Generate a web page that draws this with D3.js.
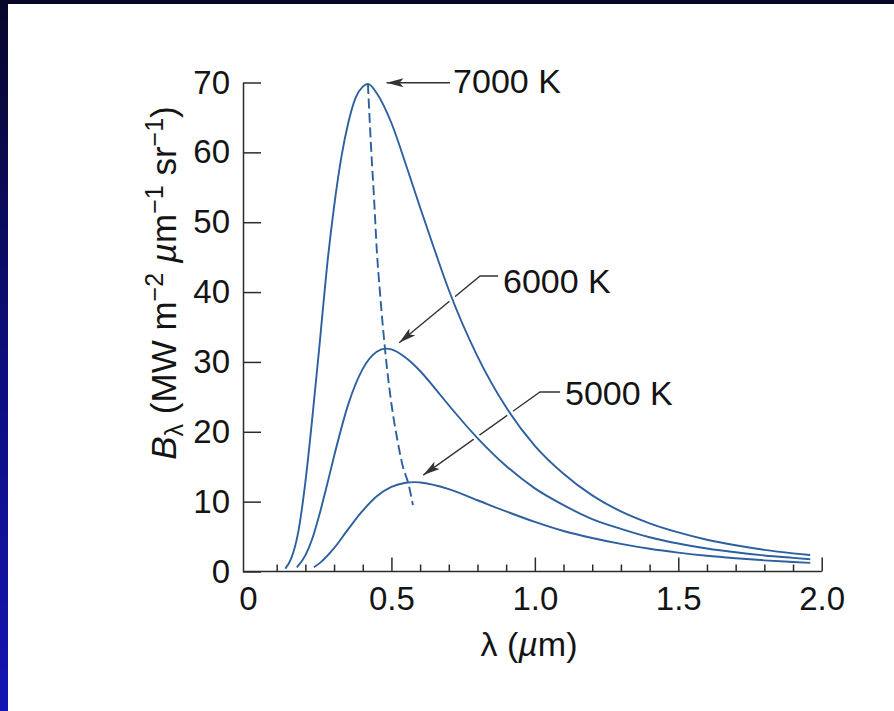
<!DOCTYPE html>
<html>
<head>
<meta charset="utf-8">
<style>
  body { margin: 0; background: #fff; }
  svg { display: block; font-family: 'Liberation Sans', Arial, Helvetica, sans-serif; }
  .axis path, .axis line { stroke: #2b2b2b; stroke-width: 1.5; }
  .axis text { font-size: 33px; fill: #141414; font-family: 'Liberation Sans', Arial, sans-serif; }
  .label { font-size: 34px; fill: #141414; }
</style>
</head>
<body>
<svg id="chart" width="894" height="711"></svg>
<script src="https://cdn.jsdelivr.net/npm/d3@7.9.0/dist/d3.min.js"></script>
<script>
// wavelength (µm) and spectral radiance B (MW m-2 µm-1 sr-1)
const lambda7000 = [0.13, 0.15, 0.175, 0.2, 0.225, 0.25, 0.275, 0.3, 0.325, 0.35, 0.375, 0.4, 0.418, 0.45, 0.5, 0.55, 0.6, 0.65, 0.7, 0.8, 0.9, 1.0, 1.1, 1.2, 1.3, 1.4, 1.5, 1.6, 1.7, 1.8, 1.9, 1.96];
const radiance7000 = [0.4, 1.8, 5.6, 12.8, 22.3, 32.7, 43.5, 52.2, 59.2, 64.3, 67.8, 69.4, 69.8, 68.4, 64.2, 58.3, 52.1, 46.1, 40.3, 30.8, 23.5, 18.0, 14.0, 10.9, 8.6, 6.9, 5.6, 4.55, 3.75, 3.1, 2.6, 2.35];

const lambda6000 = [0.17, 0.2, 0.225, 0.25, 0.275, 0.3, 0.35, 0.4, 0.45, 0.48, 0.5, 0.55, 0.6, 0.65, 0.7, 0.8, 0.9, 1.0, 1.1, 1.2, 1.3, 1.4, 1.5, 1.6, 1.7, 1.8, 1.9, 1.96];
const radiance6000 = [0.6, 2.3, 4.8, 8.3, 12.3, 16.5, 24.0, 29.0, 31.5, 31.9, 31.8, 30.6, 28.7, 26.3, 23.8, 19.1, 15.1, 11.9, 9.5, 7.5, 6.1, 4.9, 4.0, 3.3, 2.75, 2.3, 1.95, 1.75];

const lambda5000 = [0.23, 0.25, 0.3, 0.35, 0.4, 0.45, 0.5, 0.55, 0.58, 0.6, 0.7, 0.8, 0.9, 1.0, 1.1, 1.2, 1.3, 1.4, 1.5, 1.6, 1.7, 1.8, 1.9, 1.96];
const radiance5000 = [0.6, 1.2, 3.35, 6.1, 8.7, 10.8, 12.1, 12.7, 12.8, 12.75, 11.8, 10.2, 8.6, 7.1, 5.8, 4.8, 3.95, 3.25, 2.7, 2.25, 1.9, 1.6, 1.36, 1.23];

// dashed line through the peaks
const lambdaPeak = [0.418, 0.43, 0.44, 0.449, 0.46, 0.478, 0.5, 0.52, 0.54, 0.559, 0.575];
const radiancePeak = [69.8, 60, 53, 46, 40, 31.7, 24, 19, 15, 12.6, 9.5];

const temperatures = ['7000 K', '6000 K', '5000 K'];
const xMajorTicks = [0, 0.5, 1, 1.5, 2];
const xMinorTicks = [0.1, 0.2, 0.3, 0.4, 0.6, 0.7, 0.8, 0.9, 1.1, 1.2, 1.3, 1.4, 1.6, 1.7, 1.8, 1.9];
const yTicks = [0, 10, 20, 30, 40, 50, 60, 70];

const svg = d3.select('#chart');
const W = 894, H = 711;

const x = d3.scaleLinear().domain([0, 2]).range([248, 821.7]);
const y = d3.scaleLinear().domain([0, 70]).range([571.5, 82.5]);
const yAxisX = 243;

// slide background
const defs = svg.append('defs');
const grad = defs.append('linearGradient').attr('id', 'bg').attr('x1', 0).attr('y1', 0).attr('x2', 0).attr('y2', 1);
grad.append('stop').attr('offset', '0%').attr('stop-color', '#07072a');
grad.append('stop').attr('offset', '50%').attr('stop-color', '#0d0d7c');
grad.append('stop').attr('offset', '100%').attr('stop-color', '#1515b4');
svg.append('rect').attr('width', W).attr('height', H).attr('fill', 'url(#bg)');
svg.append('rect').attr('x', 8).attr('y', 4).attr('width', W - 8).attr('height', H - 4).attr('fill', '#fff');

defs.append('marker')
  .attr('id', 'head')
  .attr('markerUnits', 'userSpaceOnUse')
  .attr('markerWidth', 18).attr('markerHeight', 10)
  .attr('refX', 17).attr('refY', 5)
  .attr('orient', 'auto')
  .append('path')
  .attr('d', 'M0,0.5 L17,5 L0,9.5 L4,5 Z')
  .attr('fill', '#333');

// annotation leaders, in data units
const labels = [
  { text: temperatures[0], pts: [[0.704, 69.97], [0.483, 69.97]], at: [0.715, 68.5] },
  { text: temperatures[1], pts: [[0.872, 42.3], [0.809, 42.3], [0.527, 32.75]], at: [0.889, 39.8] },
  { text: temperatures[2], pts: [[1.088, 25.7], [1.018, 25.7], [0.611, 13.8]], at: [1.105, 23.8] }
];

const leader = d3.line().x((d) => x(d[0])).y((d) => y(d[1]));
labels.forEach((l) => {
  svg.append('path')
    .attr('d', leader(l.pts))
    .attr('fill', 'none')
    .attr('stroke', '#333')
    .attr('stroke-width', 1.4)
    .attr('marker-end', 'url(#head)');
});

const series = [
  { lambda: lambda7000, b: radiance7000 },
  { lambda: lambda6000, b: radiance6000 },
  { lambda: lambda5000, b: radiance5000 }
];

const line = d3.line()
  .x((d) => x(d[0]))
  .y((d) => y(d[1]))
  .curve(d3.curveMonotoneX);

// white casing so leaders break where they pass under curves
series.forEach((s) => {
  svg.append('path')
    .attr('d', line(d3.zip(s.lambda, s.b)))
    .attr('fill', 'none')
    .attr('stroke', '#fff')
    .attr('stroke-width', 7);
});

// axes
const xAxis = svg.append('g')
  .attr('class', 'axis')
  .attr('transform', `translate(0,${y(0)})`)
  .call(d3.axisBottom(x)
    .tickValues(xMajorTicks)
    .tickSizeInner(-14)
    .tickSizeOuter(0)
    .tickPadding(15)
    .tickFormat((d) => (d === 0 ? '0' : d.toFixed(1))));
xAxis.select('.domain').attr('d', `M${yAxisX},0H${x(2)}`);
xAxis.selectAll('.tick').filter((d) => d === 0).select('line').remove();

svg.append('g')
  .attr('class', 'axis')
  .attr('transform', `translate(0,${y(0)})`)
  .call(d3.axisBottom(x).tickValues(xMinorTicks).tickSizeInner(-7).tickSizeOuter(0).tickFormat(''))
  .call((g) => g.select('.domain').remove());

svg.append('g')
  .attr('class', 'axis')
  .attr('transform', `translate(${yAxisX},0)`)
  .call(d3.axisLeft(y).tickValues(yTicks).tickSizeInner(-18).tickSizeOuter(0).tickPadding(13));

svg.selectAll('.axis text').attr('font-size', 33);

// curves
series.forEach((s) => {
  svg.append('path')
    .attr('d', line(d3.zip(s.lambda, s.b)))
    .attr('fill', 'none')
    .attr('stroke', '#2c609f')
    .attr('stroke-width', 1.9);
});

svg.append('path')
  .attr('d', line(d3.zip(lambdaPeak, radiancePeak)))
  .attr('fill', 'none')
  .attr('stroke', '#2c609f')
  .attr('stroke-width', 1.9)
  .attr('stroke-dasharray', '10,4.5');

labels.forEach((l) => {
  svg.append('text')
    .attr('class', 'label')
    .attr('x', x(l.at[0]))
    .attr('y', y(l.at[1]))
    .text(l.text);
});

// axis titles
const xt = svg.append('text')
  .attr('class', 'label')
  .attr('x', 529)
  .attr('y', 656)
  .attr('font-size', 33)
  .attr('text-anchor', 'middle');
xt.append('tspan').text('λ (');
xt.append('tspan').attr('font-style', 'italic').text('µ');
xt.append('tspan').text('m)');

const yt = svg.append('text')
  .attr('class', 'label')
  .attr('transform', 'translate(176,283) rotate(-90)')
  .attr('text-anchor', 'middle')
  .style('font-size', '35px');
yt.append('tspan').attr('font-style', 'italic').text('B');
yt.append('tspan').style('font-size', '25px').attr('dy', 7).text('λ');
yt.append('tspan').attr('dy', -7).text(' (MW m');
yt.append('tspan').style('font-size', '25px').attr('dy', -13).text('−2');
yt.append('tspan').attr('dy', 13).text(' ');
yt.append('tspan').attr('font-style', 'italic').text('µ');
yt.append('tspan').text('m');
yt.append('tspan').style('font-size', '25px').attr('dy', -13).text('−1');
yt.append('tspan').attr('dy', 13).text(' sr');
yt.append('tspan').style('font-size', '25px').attr('dy', -13).text('−1');
yt.append('tspan').attr('dy', 13).text(')');
</script>
</body>
</html>
